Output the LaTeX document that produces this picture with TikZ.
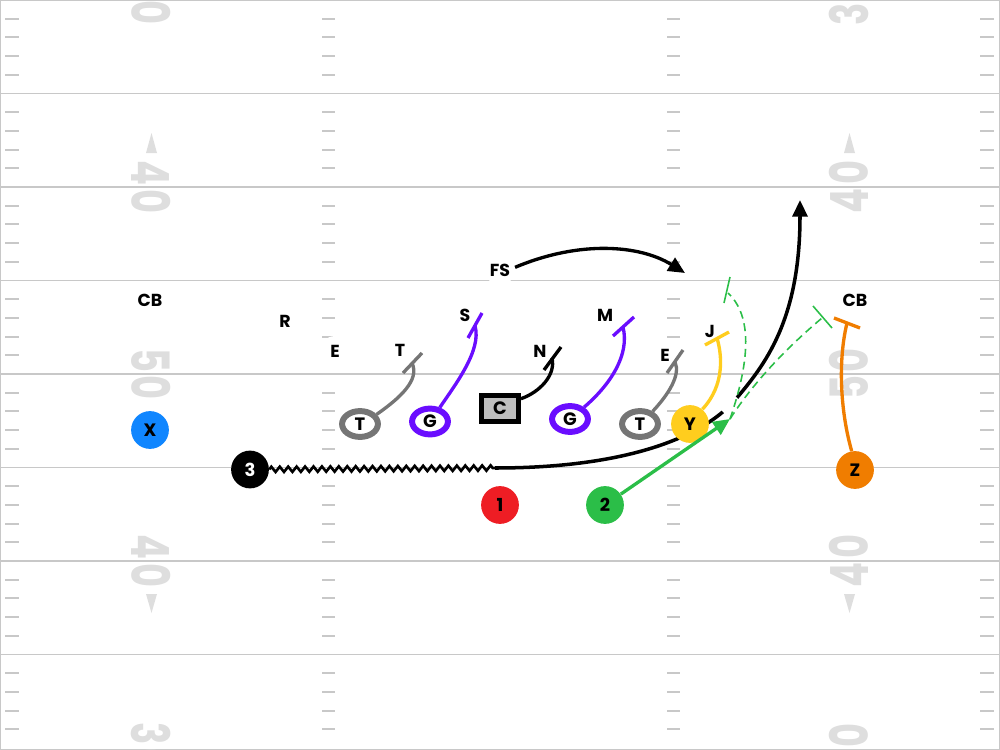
\documentclass[tikz,border=0pt]{standalone}
\usepackage{fontspec}
\newfontfamily\lbl{Poppins}
\usetikzlibrary{shapes.geometric,decorations.pathmorphing,arrows.meta}
\definecolor{fieldgray}{RGB}{200,200,200}
\definecolor{numgray}{RGB}{222,222,222}
\definecolor{lgray}{RGB}{117,117,117}
\definecolor{lpurple}{RGB}{106,13,255}
\definecolor{xblue}{RGB}{16,134,255}
\definecolor{bred}{RGB}{238,29,36}
\definecolor{bgreen}{RGB}{43,190,72}
\definecolor{yyellow}{RGB}{255,205,30}
\definecolor{zorange}{RGB}{240,125,0}
\definecolor{cfill}{RGB}{190,190,190}

\begin{document}
\begin{tikzpicture}[x=0.02cm,y=-0.02cm,
  lab/.style={circle,fill=white,inner sep=0pt,minimum size=17pt,font=\lbl\bfseries\fontsize{9.9}{11}\selectfont},
  player/.style={circle,inner sep=0pt,minimum size=21.5pt,font=\lbl\bfseries\fontsize{10.2}{11}\selectfont},
  lineman/.style={ellipse,draw,fill=white,line width=3.4pt,minimum width=20.4pt,minimum height=14.7pt,inner sep=0pt,font=\lbl\bfseries\fontsize{10.2}{11}\selectfont},
  route/.style={line width=1.9pt},
  dashroute/.style={bgreen,line width=0.9pt,dash pattern=on 4.5pt off 2.8pt},
  fieldnum/.style={text=numgray,inner sep=0pt,font=\lbl\bfseries\fontsize{30}{30}\selectfont},
  >={Triangle[length=9.5pt,width=8.5pt]}]
  \useasboundingbox (0,0) rectangle (1000,750);
  \foreach \k in {1,...,7}
    \draw[fieldgray,line width=1.1pt] (0,93.5*\k) -- (1000,93.5*\k);
  \foreach \k in {0,...,7}
    \foreach \j in {1,...,4}
      \foreach \a/\b in {5/19,322/335,667/680,980/994}
        \draw[fieldgray,line width=1.1pt] (\a,93.5*\k+18.7*\j) -- (\b,93.5*\k+18.7*\j);
  \draw[fieldgray,line width=1pt] (0.5,0.5) rectangle (999.5,749.5);
  \foreach \y/\a/\b [count=\i] in {0/3/0,187/4/0,374/5/0,561/4/0,748/3/0} {
    \node[fieldnum,rotate=-90] (numl\i) at (151,\y) {\scalebox{0.7}[1]{\a\hspace{3pt}\b}};
    \node[fieldnum,rotate=90] (numr\i) at (849,\y) {\scalebox{0.7}[1]{\a\hspace{3pt}\b}};
  }
  \foreach \x in {151.5,849.5} {
    \fill[numgray] (\x-5.5,153) -- (\x+5.5,153) -- (\x,133) -- cycle;
    \fill[numgray] (\x-5.5,594) -- (\x+5.5,594) -- (\x,613) -- cycle;
  }

  \node[lab] (cbl) at (150,300) {CB};
  \node[lab] (r) at (285,321) {R};
  \node[lab] (el) at (335,351) {E};
  \node[lab] (tt) at (400,350) {T};
  \node[lab] (s) at (465,315) {S};
  \node[lab] (fs) at (500,270) {FS};
  \node[lab] (n) at (540,351) {N};
  \node[lab] (m) at (605,315) {M};
  \node[lab] (er) at (665,355) {E};
  \node[lab] (j) at (710,331) {J};
  \node[lab] (cbr) at (855,300) {CB};

  \draw[route,->] (fs.10) .. controls (580,240) and (640,245) .. (685,273);

  \node[player,fill=black,text=white] (q3) at (250,469.5) {3};
  \coordinate (zz) at (495,468);
  \coordinate (gt) at (730,419);
  \draw[line width=1.5pt,decorate,decoration={zigzag,segment length=4.8pt,amplitude=1.5pt}] (q3) -- (zz);
  \draw[line width=2pt,->] (zz) .. controls (620,468) and (700,440) .. (735,400)
    .. controls (765,365) and (800,320) .. (800,200);
  \draw[white,line width=3.2pt] (723,412) -- (737,398);

  \node[player,fill=xblue] (x) at (150,430) {X};
  \node[player,fill=bred] (b1) at (500,505) {1};
  \node[player,fill=bgreen] (b2) at (605,505) {2};
  \node[player,fill=yyellow] (y) at (690,424) {Y};
  \node[player,fill=zorange] (z) at (855,470) {Z};
  \node[lineman,draw=lgray] (tl) at (360,424) {T};
  \node[lineman,draw=lpurple] (gl) at (430,421.5) {G};
  \node[draw,line width=2.8pt,fill=cfill,minimum width=21pt,minimum height=14.7pt,inner sep=0pt,
    font=\lbl\bfseries\fontsize{10.2}{11}\selectfont] (c) at (500,408.5) {C};
  \node[lineman,draw=lpurple] (gr) at (570,419) {G};
  \node[lineman,draw=lgray] (tr) at (640,424) {T};

  \draw[route,lgray] (tl.30) .. controls (400,398) and (420,380) .. (412,363);
  \draw[route,lgray] (403,373) -- (422,353);
  \draw[route,lpurple] (gl.55) .. controls (455,385) and (482,350) .. (475,326);
  \draw[route,lpurple] (468,338) -- (482,313);
  \draw[route] (c.25) .. controls (540,392) and (556,375) .. (552,358);
  \draw[route] (544,370) -- (561,347);
  \draw[route,lpurple] (gr.40) .. controls (610,385) and (630,355) .. (623,327);
  \draw[route,lpurple] (613,336) -- (634,317);
  \draw[route,lgray] (tr.45) .. controls (668,395) and (681,375) .. (675,362);
  \draw[route,lgray] (667,373) -- (683,350);
  \draw[route,yyellow] (y.50) .. controls (725,385) and (722,355) .. (717,338);
  \draw[route,yyellow] (705,345) -- (729,332);
  \draw[route,zorange] (z.100) .. controls (840,410) and (838,360) .. (847,323);
  \draw[route,zorange] (834,318) -- (860,328);

  \draw[route,bgreen,->] (b2) -- (gt);
  \draw[dashroute] (gt) .. controls (745,375) and (757,320) .. (728,293);
  \draw[bgreen,line width=0.9pt] (724,303) -- (730,277);
  \draw[dashroute] (gt) .. controls (755,380) and (790,345) .. (822,318);
  \draw[bgreen,line width=0.9pt] (813,306) -- (832,328);
\end{tikzpicture}
\end{document}
